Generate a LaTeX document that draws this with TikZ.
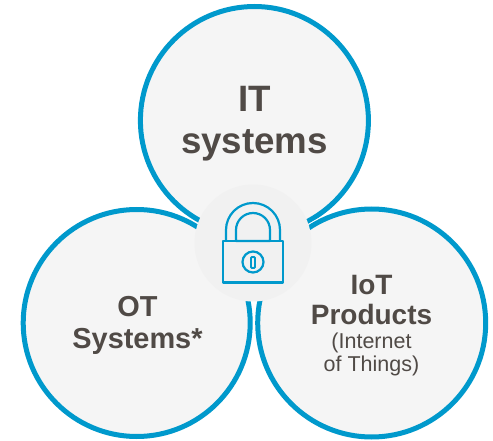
\documentclass[tikz,border=0pt]{standalone}
\usepackage{fontspec}
\setmainfont{Liberation Sans}
\usepackage{tikz}
\definecolor{ringblue}{HTML}{0099CC}
\definecolor{ringfill}{HTML}{F5F5F5}
\definecolor{discfill}{HTML}{F1F1F1}
\definecolor{labelgrey}{HTML}{504A46}
\tikzset{
	% Two node styles: the big rings and their captions
	ring node/.style={circle,draw=ringblue,line width=5pt,fill=ringfill,inner sep=0,minimum size=228pt,
		preaction={draw=white,line width=7pt}},
	caption node/.style={align=center,text=labelgrey,font=\bfseries},
	lock line/.style={draw=ringblue,line width=2.2pt,line join=round}
}
\begin{document}
\begin{tikzpicture}[x=1pt,y=-1pt]
	\useasboundingbox (0,0) rectangle (493,441);
	% the three rings
	\node(it)[ring node] at (254.4,120.5){};
	\node(ot)[ring node,minimum size=227pt] at (136.7,323){};
	\node(iot)[ring node] at (371.7,323){};
	% disc behind the lock
	\node(disc)[circle,fill=discfill,inner sep=0,minimum size=117pt] at (253,243){};
	% captions
	\node(it-text)[caption node,font=\bfseries\fontsize{36.7}{42}\selectfont] at (254.5,123.5){IT\\systems};
	\node(ot-text)[caption node,font=\bfseries\fontsize{28.9}{31.5}\selectfont] at (137.5,325.5){OT\\Systems*};
	\node(iot-text)[caption node,font=\bfseries\fontsize{28}{30.7}\selectfont] at (371.5,300){IoT\\Products};
	\node(iot-sub)[align=center,text=labelgrey,font=\fontsize{21.5}{23}\selectfont] at (371.5,354){(Internet\\of Things)};
	% the lock
	\draw[lock line] (223,241) rectangle (283,282.5);
	\draw[lock line] (226,241) -- (226,230) arc[start angle=180,end angle=0,x radius=27,y radius=-27] -- (280,241);
	\draw[lock line] (236,241) -- (236,230) arc[start angle=180,end angle=0,x radius=17,y radius=-17] -- (270,241) -- cycle;
	\node(keyhole)[circle,draw=ringblue,line width=2.2pt,inner sep=0,minimum size=21pt] at (253,262){};
	\node(keyslot)[rectangle,rounded corners=1pt,draw=ringblue,line width=1.8pt,inner sep=0,minimum width=4pt,minimum height=11pt] at (253,262.5){};
\end{tikzpicture}
\end{document}
